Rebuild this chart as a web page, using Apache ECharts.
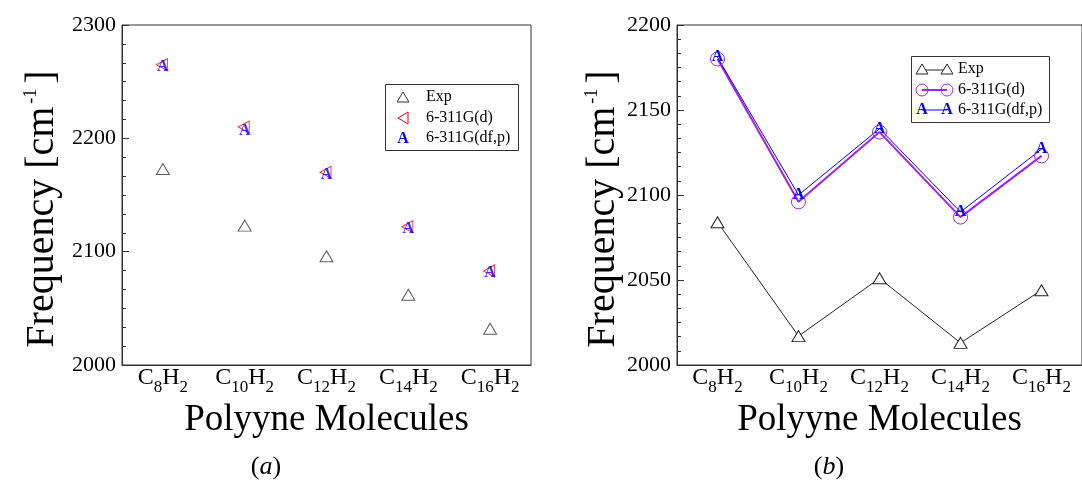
<!DOCTYPE html>
<html><head><meta charset="utf-8">
<script src="https://cdn.jsdelivr.net/npm/echarts@6/dist/echarts.min.js"></script>
<style>html,body{margin:0;padding:0;background:#fff}#c{width:1082px;height:487px}</style>
</head><body><div id="c"></div>
<script>
const categories = ['C8H2', 'C10H2', 'C12H2', 'C14H2', 'C16H2'];
// panel (a)
const expA  = [2173, 2123, 2096, 2062, 2032];
const d311A = [2265, 2210, 2170, 2122, 2083];
const dfpA  = [2263, 2207, 2168, 2120, 2081];
const yTicksA = [2000, 2100, 2200, 2300];
// panel (b)
const expB  = [2084, 2017, 2051, 2013, 2044];
const d311B = [2180, 2096, 2137, 2087, 2123];
const dfpB  = [2181, 2100, 2139, 2090, 2127];
const yTicksB = [2000, 2050, 2100, 2150, 2200];
const legendNames = ['Exp', '6-311G(d)', '6-311G(df,p)'];
const xTitle = 'Polyyne Molecules';
const yTitle = '{a|Frequency [cm}{s|-1}{a|]}';

const FF = '"Liberation Serif", "DejaVu Serif", serif';
const AX = '#333';
const RED = '#ff0000', PURPLE = '#a020f0', BLUE = '#0000ff';

function xAxisCfg(gi) {
  return {
    type: 'category', gridIndex: gi, data: categories, boundaryGap: true,
    axisLine: { lineStyle: { color: AX, width: 1 } },
    axisTick: { inside: true, alignWithLabel: true, length: 7, lineStyle: { color: AX } },
    axisLabel: {
      interval: 0, margin: 1, color: '#000',
      formatter: v => v.replace(/([A-Z]+)(\d+)/g, '{c|$1}{s|$2}'),
      rich: {
        c: { fontFamily: FF, fontSize: 24, lineHeight: 24, color: '#000' },
        s: { fontFamily: FF, fontSize: 17, lineHeight: 17, padding: [19, 0, 0, 0], color: '#000' }
      }
    },
    name: xTitle, nameLocation: 'middle', nameGap: 37, nameMoveOverlap: false,
    nameTextStyle: { fontFamily: FF, fontSize: 37, color: '#000' }
  };
}
function yAxisCfg(gi, ticks, gap) {
  return {
    type: 'value', gridIndex: gi,
    min: ticks[0], max: ticks[ticks.length - 1], interval: ticks[1] - ticks[0],
    axisLine: { show: true, lineStyle: { color: AX, width: 1 } },
    axisTick: { show: true, inside: true, length: 7, lineStyle: { color: AX } },
    minorTick: { show: true, splitNumber: 6, length: 4, lineStyle: { color: AX } },
    splitLine: { show: false },
    axisLabel: { fontFamily: FF, fontSize: 22, color: '#000', margin: 6, formatter: v => String(v) },
    name: yTitle, nameLocation: 'middle', nameGap: gap, nameMoveOverlap: false,
    nameTextStyle: {
      color: '#000',
      padding: [0, 28, 0, 0],
      rich: {
        a: { fontFamily: FF, fontSize: 40, lineHeight: 40, verticalAlign: 'bottom', color: '#000' },
        s: { fontFamily: FF, fontSize: 18, lineHeight: 18, verticalAlign: 'top', padding: [0, 5, 48, 3], color: '#000' }
      }
    }
  };
}
const hidden = 'rgba(0,0,0,0)';
const aLabel = { show: true, formatter: 'A', position: 'inside', color: BLUE, fontSize: 16, fontWeight: 'bold', fontFamily: FF };

const option = {
  backgroundColor: '#fff',
  animation: false,
  grid: [
    { left: 122, top: 25, width: 409, height: 340, show: true, borderColor: AX, borderWidth: 1 },
    { left: 677, top: 25, width: 410, height: 340, show: true, borderColor: AX, borderWidth: 1 }
  ],
  xAxis: [xAxisCfg(0), xAxisCfg(1)],
  yAxis: [yAxisCfg(0, yTicksA, 60), yAxisCfg(1, yTicksB, 54)],
  series: [
    { name: legendNames[0], type: 'scatter', xAxisIndex: 0, yAxisIndex: 0, data: expA,
      symbol: 'triangle', symbolSize: [13, 11],
      itemStyle: { color: hidden, borderColor: AX, borderWidth: 1 } },
    { name: legendNames[1], type: 'scatter', xAxisIndex: 0, yAxisIndex: 0, data: d311A,
      symbol: 'triangle', symbolRotate: 90, symbolSize: [12, 11], symbolOffset: [-1, 0],
      itemStyle: { color: hidden, borderColor: RED, borderWidth: 1 } },
    { name: legendNames[2], type: 'scatter', xAxisIndex: 0, yAxisIndex: 0, data: dfpA,
      symbol: 'circle', symbolSize: 2, itemStyle: { color: hidden }, label: aLabel },

    { name: legendNames[0], type: 'line', xAxisIndex: 1, yAxisIndex: 1, data: expB,
      symbol: 'triangle', symbolSize: [13, 11], showAllSymbol: true,
      lineStyle: { color: '#222', width: 1 },
      itemStyle: { color: '#fff', borderColor: '#222', borderWidth: 1 } },
    { name: legendNames[1], type: 'line', xAxisIndex: 1, yAxisIndex: 1, data: d311B,
      symbol: 'circle', symbolSize: 14,
      lineStyle: { color: PURPLE, width: 2 },
      itemStyle: { color: hidden, borderColor: PURPLE, borderWidth: 1 } },
    { name: legendNames[2], type: 'line', xAxisIndex: 1, yAxisIndex: 1, data: dfpB,
      symbol: 'circle', symbolSize: 2,
      lineStyle: { color: BLUE, width: 1 },
      itemStyle: { color: hidden, borderColor: hidden }, label: aLabel }
  ],
  graphic: [
    // legend (a)
    { type: 'rect', shape: { x: 385.5, y: 84.5, width: 133, height: 66 }, style: { fill: '#fff', stroke: AX, lineWidth: 1 } },
    { type: 'polygon', shape: { points: [[397, 102], [403, 92], [409, 102]] }, style: { fill: 'none', stroke: AX, lineWidth: 1 } },
    { type: 'polygon', shape: { points: [[408, 112], [398, 118], [408, 124]] }, style: { fill: 'none', stroke: RED, lineWidth: 1 } },
    { type: 'text', style: { text: 'A', x: 403, y: 139, align: 'center', verticalAlign: 'middle', font: 'bold 16px ' + FF, fill: BLUE } },
    { type: 'text', style: { text: legendNames[0], x: 426, y: 97, verticalAlign: 'middle', font: '16px ' + FF, fill: '#000' } },
    { type: 'text', style: { text: legendNames[1], x: 426, y: 118, verticalAlign: 'middle', font: '16px ' + FF, fill: '#000' } },
    { type: 'text', style: { text: legendNames[2], x: 426, y: 138, verticalAlign: 'middle', font: '16px ' + FF, fill: '#000' } },
    // legend (b)
    { type: 'rect', shape: { x: 911.5, y: 56.5, width: 138, height: 66 }, style: { fill: '#fff', stroke: AX, lineWidth: 1 } },
    { type: 'line', shape: { x1: 922, y1: 70, x2: 947, y2: 70 }, style: { stroke: '#222', lineWidth: 1 } },
    { type: 'polygon', shape: { points: [[916, 74], [922, 64], [928, 74]] }, style: { fill: '#fff', stroke: '#222', lineWidth: 1 } },
    { type: 'polygon', shape: { points: [[941, 74], [947, 64], [953, 74]] }, style: { fill: '#fff', stroke: '#222', lineWidth: 1 } },
    { type: 'line', shape: { x1: 922, y1: 90, x2: 947, y2: 90 }, style: { stroke: PURPLE, lineWidth: 2 } },
    { type: 'circle', shape: { cx: 922, cy: 90, r: 6 }, style: { fill: 'none', stroke: PURPLE, lineWidth: 1 } },
    { type: 'circle', shape: { cx: 947, cy: 90, r: 6 }, style: { fill: 'none', stroke: PURPLE, lineWidth: 1 } },
    { type: 'line', shape: { x1: 922, y1: 110, x2: 947, y2: 110 }, style: { stroke: BLUE, lineWidth: 1 } },
    { type: 'text', style: { text: 'A', x: 922, y: 110, align: 'center', verticalAlign: 'middle', font: 'bold 16px ' + FF, fill: BLUE } },
    { type: 'text', style: { text: 'A', x: 947, y: 110, align: 'center', verticalAlign: 'middle', font: 'bold 16px ' + FF, fill: BLUE } },
    { type: 'text', style: { text: legendNames[0], x: 958, y: 69, verticalAlign: 'middle', font: '16px ' + FF, fill: '#000' } },
    { type: 'text', style: { text: legendNames[1], x: 958, y: 90, verticalAlign: 'middle', font: '16px ' + FF, fill: '#000' } },
    { type: 'text', style: { text: legendNames[2], x: 958, y: 110, verticalAlign: 'middle', font: '16px ' + FF, fill: '#000' } },
    // panel letters
    { type: 'text', style: { text: '{n|(}{i|a}{n|)}', x: 266, y: 467, align: 'center', verticalAlign: 'middle',
        rich: { n: { fontFamily: FF, fontSize: 26, fill: '#000' }, i: { fontFamily: FF, fontSize: 26, fontStyle: 'italic', fill: '#000' } } } },
    { type: 'text', style: { text: '{n|(}{i|b}{n|)}', x: 829, y: 467, align: 'center', verticalAlign: 'middle',
        rich: { n: { fontFamily: FF, fontSize: 26, fill: '#000' }, i: { fontFamily: FF, fontSize: 26, fontStyle: 'italic', fill: '#000' } } } }
  ]
};
echarts.init(document.getElementById('c'), null, { renderer: 'canvas' }).setOption(option);
</script>
</body></html>
